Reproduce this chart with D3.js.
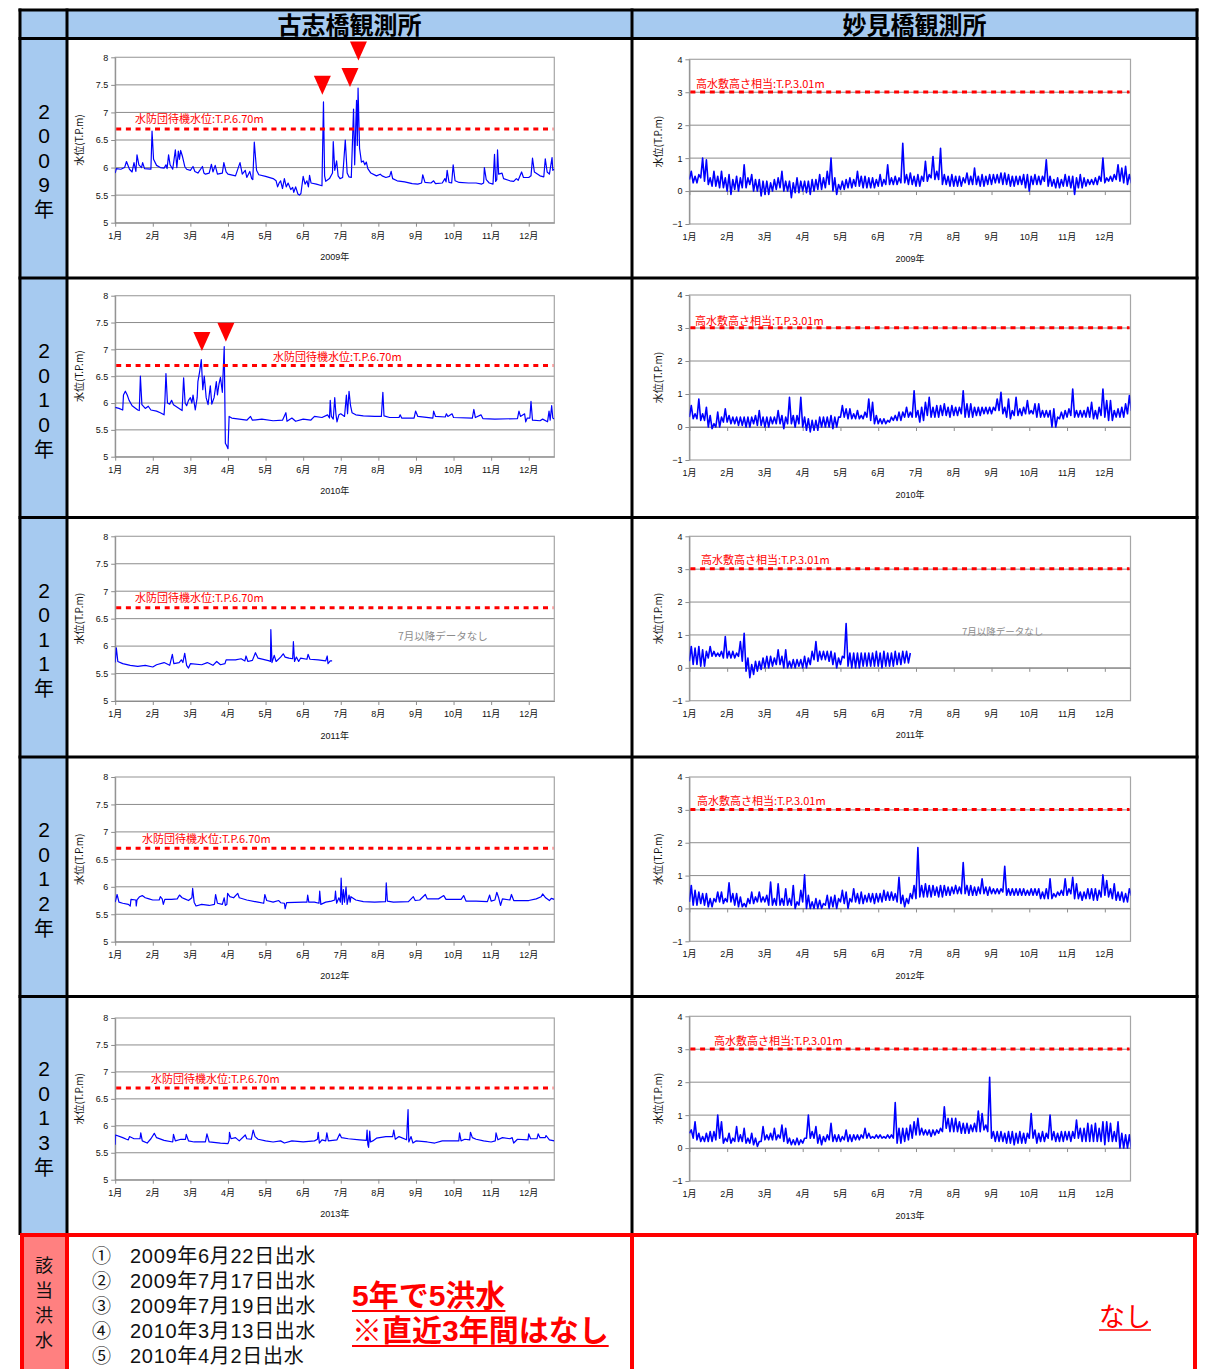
<!DOCTYPE html>
<html>
<head>
<meta charset="utf-8">
<script src="https://cdn.jsdelivr.net/npm/d3@7"></script>
<style>
  body { margin: 0; background: #fff; }
  svg { display: block; }
</style>
</head>
<body>
<svg id="chart" width="1205" height="1369"></svg>
<script>
// ---- data ----
var YEARS = [2009, 2010, 2011, 2012, 2013];
var MONTH_LABELS = ["1月", "2月", "3月", "4月", "5月", "6月", "7月", "8月", "9月", "10月", "11月", "12月"];
var KOSHI_TICKS = [5, 5.5, 6, 6.5, 7, 7.5, 8];
var MYOKEN_TICKS = [-1, 0, 1, 2, 3, 4];
var KOSHI_LEVEL = 6.70;
var MYOKEN_LEVEL = 3.01;
var KOSHI_LEVEL_LABEL = "水防団待機水位:T.P.6.70m";
var MYOKEN_LEVEL_LABEL = "高水敷高さ相当:T.P.3.01m";
var STATIONS = ["古志橋観測所", "妙見橋観測所"];
var NO_DATA_LABEL = "7月以降データなし";
var FLOOD_LIST = ["2009年6月22日出水", "2009年7月17日出水", "2009年7月19日出水", "2010年3月13日出水", "2010年4月2日出水"];
var FLOOD_NUMS = ["①", "②", "③", "④", "⑤"];
var SUMMARY_LEFT = ["5年で5洪水", "※直近3年間はなし"];
var SUMMARY_RIGHT = "なし";

// Koshi bridge: [month position, level T.P.m]
var koshi2009 = [[0,5.9],[0.03,5.98],[0.15,5.97],[0.25,6.0],[0.3,6.11],[0.38,5.97],[0.45,5.92],[0.5,6.09],[0.55,5.93],[0.58,6.23],[0.63,6.05],[0.7,6.0],[0.73,6.09],[0.78,5.98],[0.95,5.97],[0.98,6.66],[1.02,6.15],[1.1,6.04],[1.2,6.0],[1.3,5.99],[1.35,6.05],[1.38,5.98],[1.42,6.23],[1.46,6.05],[1.53,5.97],[1.6,6.32],[1.64,6.0],[1.68,6.3],[1.71,6.15],[1.74,6.31],[1.79,6.2],[1.85,6.02],[1.9,5.97],[2.0,5.95],[2.07,6.02],[2.12,5.93],[2.2,5.9],[2.32,6.02],[2.36,5.9],[2.4,5.88],[2.5,5.9],[2.56,6.06],[2.6,5.92],[2.66,6.04],[2.72,5.88],[2.85,5.9],[2.89,6.09],[2.95,5.92],[3.0,5.88],[3.2,5.85],[3.32,6.09],[3.38,5.88],[3.46,5.95],[3.5,5.82],[3.58,5.93],[3.63,5.8],[3.66,5.78],[3.7,6.46],[3.76,5.95],[3.82,5.87],[4.0,5.84],[4.2,5.8],[4.28,5.76],[4.32,5.65],[4.36,5.72],[4.4,5.76],[4.45,5.62],[4.5,5.8],[4.55,5.65],[4.6,5.72],[4.67,5.6],[4.72,5.64],[4.75,5.55],[4.8,5.65],[4.86,5.52],[4.9,5.5],[4.94,5.53],[5.0,5.84],[5.05,5.7],[5.1,5.76],[5.14,5.65],[5.17,5.86],[5.21,5.72],[5.35,5.7],[5.5,5.67],[5.54,7.19],[5.57,5.85],[5.6,5.75],[5.7,5.8],[5.78,5.9],[5.8,6.47],[5.84,5.95],[5.89,6.12],[5.93,5.85],[5.98,5.8],[6.05,5.82],[6.12,6.5],[6.17,5.9],[6.22,5.83],[6.28,5.82],[6.34,7.06],[6.37,6.05],[6.4,6.8],[6.42,7.22],[6.44,6.4],[6.46,7.44],[6.5,6.35],[6.55,6.1],[6.6,6.12],[6.64,6.05],[6.68,6.1],[6.72,5.98],[6.8,5.9],[6.95,5.85],[7.05,5.88],[7.1,5.85],[7.2,5.82],[7.3,5.84],[7.34,5.93],[7.38,5.8],[7.5,5.76],[7.7,5.74],[7.9,5.71],[8.05,5.7],[8.15,5.72],[8.18,5.87],[8.24,5.73],[8.4,5.72],[8.47,5.76],[8.52,5.71],[8.7,5.72],[8.77,5.8],[8.8,5.74],[8.83,5.95],[8.88,5.73],[8.95,5.72],[8.99,6.05],[9.04,5.76],[9.15,5.73],[9.4,5.72],[9.6,5.72],[9.75,5.7],[9.8,5.72],[9.82,6.0],[9.87,5.78],[9.95,5.72],[10.05,5.7],[10.09,6.24],[10.12,5.75],[10.15,5.78],[10.17,6.32],[10.2,5.88],[10.29,5.9],[10.33,5.8],[10.5,5.76],[10.6,5.75],[10.67,5.8],[10.72,5.77],[10.81,5.92],[10.86,5.82],[11.0,5.82],[11.06,5.85],[11.1,6.17],[11.15,5.92],[11.3,5.85],[11.4,5.83],[11.44,6.16],[11.49,5.92],[11.55,5.88],[11.62,6.18],[11.64,5.95],[11.68,5.97]];
var koshi2010 = [[0,5.92],[0.1,5.9],[0.2,5.87],[0.22,6.15],[0.27,6.22],[0.32,6.15],[0.37,6.05],[0.45,5.95],[0.6,5.87],[0.64,5.86],[0.67,6.5],[0.71,5.97],[0.8,5.9],[0.88,5.94],[0.95,5.87],[1.1,5.85],[1.2,5.82],[1.3,5.78],[1.32,6.0],[1.35,6.55],[1.39,6.0],[1.45,5.98],[1.5,6.05],[1.55,5.97],[1.7,5.9],[1.78,5.86],[1.82,6.47],[1.86,6.0],[1.9,5.95],[1.95,6.05],[2.0,6.1],[2.04,6.0],[2.07,6.15],[2.13,5.87],[2.18,6.1],[2.2,6.4],[2.25,6.6],[2.29,6.81],[2.33,6.25],[2.37,6.5],[2.42,6.1],[2.47,5.97],[2.53,6.32],[2.57,5.98],[2.63,6.1],[2.69,6.4],[2.72,6.15],[2.76,6.35],[2.8,6.48],[2.85,6.2],[2.9,7.05],[2.93,5.25],[2.97,5.2],[3.0,5.15],[3.03,5.75],[3.1,5.72],[3.3,5.7],[3.5,5.68],[3.6,5.75],[3.65,5.68],[3.9,5.7],[4.2,5.67],[4.45,5.68],[4.54,5.82],[4.57,5.66],[4.7,5.72],[4.8,5.66],[5.0,5.7],[5.2,5.68],[5.3,5.75],[5.5,5.73],[5.65,5.78],[5.7,5.72],[5.72,6.05],[5.75,5.75],[5.8,5.7],[5.84,6.1],[5.87,5.8],[5.9,5.65],[5.95,5.78],[6.0,5.8],[6.1,5.75],[6.15,6.15],[6.18,5.8],[6.22,6.22],[6.26,5.95],[6.3,5.82],[6.4,5.78],[6.6,5.76],[6.9,5.75],[7.08,5.75],[7.12,6.2],[7.15,5.76],[7.3,5.73],[7.55,5.73],[7.58,5.78],[7.62,5.72],[7.95,5.72],[7.99,5.85],[8.05,5.75],[8.45,5.72],[8.47,5.85],[8.52,5.75],[8.78,5.74],[8.81,5.8],[8.85,5.75],[8.96,5.8],[9.0,5.73],[9.5,5.72],[9.54,5.88],[9.58,5.73],[9.73,5.78],[9.78,5.71],[10.1,5.7],[10.7,5.71],[10.74,5.85],[10.78,5.75],[10.89,5.8],[10.92,5.65],[10.96,5.72],[11.03,5.72],[11.06,6.03],[11.1,5.68],[11.3,5.67],[11.37,5.7],[11.5,5.65],[11.54,5.85],[11.57,5.68],[11.61,5.95],[11.64,5.72],[11.68,5.7]];
var koshi2011 = [[0,5.7],[0.03,5.97],[0.07,5.72],[0.2,5.68],[0.4,5.65],[0.6,5.63],[0.8,5.65],[1.0,5.62],[1.1,5.66],[1.3,5.7],[1.45,5.65],[1.52,5.85],[1.56,5.68],[1.7,5.7],[1.76,5.75],[1.8,5.7],[1.85,5.87],[1.9,5.65],[1.95,5.6],[2.0,5.68],[2.3,5.66],[2.45,5.7],[2.6,5.65],[2.7,5.72],[2.8,5.66],[2.92,5.68],[2.95,5.75],[3.2,5.75],[3.35,5.77],[3.45,5.73],[3.48,5.82],[3.53,5.72],[3.65,5.74],[3.73,5.88],[3.8,5.78],[4.1,5.73],[4.13,5.72],[4.14,6.3],[4.17,5.7],[4.23,5.83],[4.28,5.72],[4.4,5.8],[4.47,5.86],[4.52,5.8],[4.62,5.78],[4.72,5.77],[4.74,6.08],[4.77,5.72],[4.82,5.8],[4.88,5.72],[4.93,5.78],[5.1,5.76],[5.13,5.85],[5.18,5.76],[5.4,5.75],[5.6,5.73],[5.64,5.82],[5.66,5.68],[5.72,5.73],[5.77,5.73]];
var koshi2012 = [[0,5.72],[0.05,5.86],[0.1,5.72],[0.2,5.7],[0.35,5.68],[0.4,5.65],[0.42,5.77],[0.55,5.76],[0.56,5.65],[0.58,5.76],[0.65,5.82],[0.72,5.84],[0.8,5.8],[0.9,5.78],[1.0,5.76],[1.17,5.76],[1.2,5.82],[1.25,5.78],[1.28,5.68],[1.32,5.77],[1.5,5.77],[1.65,5.78],[1.71,5.85],[1.78,5.8],[1.85,5.78],[1.95,5.75],[2.04,5.8],[2.06,5.97],[2.1,5.72],[2.15,5.65],[2.3,5.68],[2.5,5.66],[2.64,5.68],[2.67,5.86],[2.72,5.7],[2.85,5.68],[2.9,5.8],[2.93,5.66],[2.97,5.68],[2.99,5.88],[3.05,5.82],[3.15,5.8],[3.26,5.88],[3.3,5.8],[3.5,5.76],[3.8,5.72],[3.95,5.7],[3.98,5.86],[4.03,5.75],[4.2,5.72],[4.35,5.75],[4.4,5.71],[4.5,5.7],[4.52,5.6],[4.56,5.71],[5.0,5.72],[5.1,5.72],[5.12,5.85],[5.15,5.72],[5.3,5.72],[5.42,5.7],[5.44,5.92],[5.47,5.68],[5.6,5.72],[5.75,5.74],[5.84,5.76],[5.86,5.92],[5.89,5.7],[5.95,5.8],[5.99,5.72],[6.01,6.16],[6.04,5.68],[6.07,5.95],[6.1,5.72],[6.14,6.0],[6.17,5.68],[6.22,5.85],[6.25,5.72],[6.27,5.82],[6.4,5.76],[6.6,5.73],[6.9,5.72],[7.19,5.73],[7.21,6.07],[7.24,5.74],[7.4,5.72],[7.8,5.73],[7.93,5.82],[7.98,5.75],[8.1,5.76],[8.25,5.86],[8.3,5.78],[8.6,5.78],[8.74,5.84],[8.8,5.77],[9.2,5.77],[9.27,5.84],[9.33,5.74],[9.6,5.74],[9.9,5.73],[9.96,5.85],[10.0,5.74],[10.1,5.76],[10.15,5.9],[10.2,5.8],[10.25,5.66],[10.3,5.78],[10.5,5.76],[10.54,5.86],[10.6,5.75],[11.0,5.75],[11.2,5.78],[11.33,5.82],[11.37,5.87],[11.45,5.8],[11.55,5.75],[11.6,5.79],[11.68,5.77]];
var koshi2013 = [[0,5.65],[0.01,5.83],[0.2,5.78],[0.3,5.75],[0.35,5.74],[0.38,5.8],[0.5,5.76],[0.66,5.76],[0.68,5.87],[0.72,5.72],[0.85,5.68],[0.95,5.76],[1.04,5.86],[1.1,5.78],[1.3,5.73],[1.53,5.7],[1.55,5.84],[1.6,5.72],[1.75,5.75],[1.87,5.75],[1.89,5.84],[1.95,5.72],[2.1,5.7],[2.4,5.7],[2.44,5.85],[2.5,5.7],[2.8,5.68],[3.0,5.67],[3.03,5.73],[3.04,5.88],[3.08,5.76],[3.2,5.78],[3.3,5.72],[3.46,5.83],[3.5,5.76],[3.62,5.75],[3.67,5.92],[3.72,5.8],[3.8,5.75],[4.0,5.72],[4.2,5.7],[4.4,5.72],[4.5,5.68],[4.7,5.72],[5.0,5.7],[5.3,5.72],[5.38,5.75],[5.4,5.88],[5.43,5.68],[5.5,5.74],[5.6,5.72],[5.63,5.87],[5.67,5.72],[5.9,5.74],[5.97,5.85],[6.02,5.78],[6.2,5.76],[6.5,5.74],[6.68,5.73],[6.7,5.92],[6.72,5.65],[6.74,5.6],[6.77,5.9],[6.79,5.7],[6.85,5.72],[6.95,5.77],[7.2,5.8],[7.38,5.8],[7.41,5.92],[7.45,5.75],[7.55,5.8],[7.75,5.74],[7.79,6.3],[7.81,5.7],[7.87,5.8],[7.92,5.68],[8.0,5.72],[8.3,5.7],[8.5,5.68],[8.7,5.72],[9.14,5.72],[9.16,5.87],[9.2,5.72],[9.3,5.75],[9.43,5.74],[9.45,5.88],[9.5,5.78],[9.6,5.75],[9.8,5.72],[10.0,5.7],[10.11,5.72],[10.13,5.87],[10.18,5.74],[10.3,5.78],[10.5,5.76],[10.56,5.78],[10.6,5.68],[10.7,5.75],[10.98,5.74],[11.0,5.85],[11.05,5.76],[11.22,5.76],[11.25,5.85],[11.3,5.78],[11.44,5.78],[11.46,5.82],[11.55,5.74],[11.68,5.72]];

// Myoken bridge (tidal): low and high reading in each 0.1-month window from 1 Jan (T.P.m)
var myoken2009Lo = [0.35,0.25,0.25,0.4,0.3,0.2,0.15,0.15,0.1,0.1, 0.0,-0.1,0.05,0.0,0.1,0.1,0.2,0.0,0.0,-0.15, -0.1,-0.1,0.0,0.05,0.1,0.0,0.0,-0.2,-0.05,-0.05, 0.0,-0.05,-0.1,0.0,0.05,0.05,0.1,0.2,0.0,-0.1, 0.05,0.05,0.1,0.1,0.15,0.15,0.1,0.1,0.1,0.1, 0.15,0.15,0.2,0.2,0.2,0.2,0.25,0.25,0.2,0.2, 0.15,0.15,0.3,0.3,0.4,0.35,0.35,0.2,0.2,0.15, 0.15,0.15,0.15,0.25,0.2,0.2,0.2,0.15,0.15,0.2, 0.2,0.25,0.25,0.2,0.2,0.15,0.15,0.2,0.2,0.1, 0.0,0.2,0.2,0.2,0.3,0.15,0.15,0.1,0.1,0.15, 0.15,0.1,-0.1,0.1,0.1,0.15,0.2,0.2,0.2,0.3, 0.25,0.3,0.3,0.35,0.3,0.25,0.2,0.25];
var myoken2009Hi = [0.6,0.45,0.5,1.0,0.95,0.4,0.6,0.45,0.6,0.4, 0.5,0.35,0.45,0.4,0.8,0.4,0.5,0.35,0.35,0.3, 0.3,0.25,0.35,0.4,0.6,0.3,0.3,0.25,0.4,0.3, 0.3,0.3,0.35,0.35,0.5,0.4,0.6,1.0,0.4,0.2, 0.3,0.35,0.4,0.35,0.6,0.45,0.45,0.4,0.4,0.35, 0.5,0.35,0.8,0.4,0.45,0.4,1.45,0.5,0.55,0.45, 0.5,0.45,0.9,0.5,1.05,0.6,1.3,0.5,0.45,0.5, 0.45,0.45,0.4,0.55,0.45,0.7,0.45,0.5,0.45,0.5, 0.5,0.5,0.55,0.55,0.5,0.45,0.45,0.45,0.5,0.5, 0.45,0.5,0.45,0.45,0.95,0.45,0.35,0.4,0.35,0.5, 0.45,0.45,0.4,0.5,0.4,0.35,0.35,0.4,0.45,1.0, 0.4,0.45,0.5,0.8,0.7,0.75,0.5,0.8];
var myoken2010Lo = [0.3,0.25,0.25,0.2,0.2,0.0,-0.05,0.0,0.0,0.15, 0.15,0.1,0.1,0.05,0.05,0.0,0.0,0.1,0.05,0.05, 0.0,0.0,0.1,0.1,0.1,-0.05,0.1,0.1,0.0,0.1, 0.0,-0.1,-0.15,-0.1,-0.1,0.0,0.0,0.0,-0.05,0.0, 0.3,0.3,0.25,0.25,0.25,0.25,0.25,0.3,0.2,0.1, 0.1,0.1,0.1,0.15,0.2,0.2,0.2,0.3,0.3,0.3, 0.3,0.15,0.2,0.35,0.3,0.3,0.3,0.35,0.35,0.3, 0.35,0.35,0.4,0.3,0.3,0.3,0.35,0.35,0.4,0.4, 0.4,0.5,0.5,0.4,0.3,0.25,0.35,0.35,0.35,0.4, 0.4,0.4,0.3,0.3,0.3,0.3,0.0,0.0,0.25,0.25, 0.3,0.35,0.3,0.3,0.3,0.3,0.3,0.25,0.25,0.35, 0.3,0.2,0.2,0.3,0.3,0.3,0.4,0.5];
var myoken2010Hi = [0.65,0.4,0.85,0.4,0.6,0.35,0.1,0.45,0.3,0.55, 0.35,0.3,0.3,0.3,0.3,0.3,0.3,0.35,0.5,0.3, 0.3,0.3,0.3,0.5,0.35,0.3,0.9,0.35,0.35,0.9, 0.3,0.25,0.2,0.2,0.3,0.3,0.3,0.35,0.3,0.3, 0.65,0.55,0.55,0.4,0.5,0.35,0.45,0.85,0.75,0.35, 0.25,0.25,0.2,0.3,0.35,0.45,0.45,0.6,0.45,1.1, 0.5,0.6,0.75,0.9,0.6,0.65,0.65,0.7,0.6,0.65, 0.6,0.6,1.1,0.7,0.7,0.6,0.6,0.6,0.6,0.6, 0.6,0.85,1.05,0.6,0.85,0.5,0.9,0.55,0.6,0.8, 0.5,0.7,0.7,0.5,0.5,0.5,0.55,0.3,0.45,0.5, 0.55,1.15,0.5,0.5,0.5,0.6,0.75,0.5,0.6,1.15, 0.8,0.8,0.5,0.55,0.6,0.7,0.95,0.8];
var myoken2011Lo = [0.2,0.1,0.1,0.05,0.05,0.3,0.35,0.35,0.35,0.3, 0.3,0.3,0.3,0.35,0.2,-0.1,-0.3,-0.2,-0.1,-0.05, 0.0,0.0,0.05,0.1,0.1,0.0,0.0,0.0,0.0,0.05, 0.0,0.0,0.1,0.25,0.2,0.25,0.25,0.2,0.1,0.0, 0.1,0.3,0.05,0.0,0.0,0.0,0.05,0.05,0.05,0.05, 0.05,0.0,0.05,0.05,0.05,0.1,0.1,0.15,0.15];
var myoken2011Hi = [0.65,0.6,0.65,0.55,0.5,0.65,0.5,0.45,0.5,0.95, 0.5,0.5,0.45,0.8,1.05,0.3,0.1,0.2,0.2,0.3, 0.35,0.35,0.3,0.55,0.35,0.55,0.2,0.25,0.25,0.25, 0.35,0.3,0.5,0.8,0.5,0.5,0.5,0.5,0.45,0.3, 0.35,1.35,0.45,0.45,0.45,0.45,0.45,0.45,0.45,0.5, 0.45,0.5,0.45,0.45,0.5,0.45,0.5,0.5,0.45];
var myoken2012Lo = [0.2,0.1,0.1,0.15,0.1,0.05,0.05,0.2,0.2,0.15, 0.2,0.2,0.1,0.05,0.05,0.05,0.15,0.15,0.2,0.2, 0.2,0.1,0.1,0.1,0.1,0.1,0.1,0.1,0.0,0.1, 0.2,0.0,0.0,0.0,0.0,0.0,0.1,0.0,0.05,0.0, 0.2,0.15,0.0,0.2,0.2,0.15,0.15,0.2,0.2,0.15, 0.2,0.2,0.25,0.25,0.25,0.2,0.15,0.05,0.15,0.3, 0.3,0.35,0.35,0.35,0.35,0.4,0.35,0.35,0.4,0.4, 0.45,0.45,0.45,0.45,0.4,0.4,0.4,0.45,0.45,0.4, 0.45,0.45,0.45,0.5,0.4,0.4,0.4,0.4,0.4,0.4, 0.4,0.4,0.4,0.3,0.3,0.3,0.3,0.35,0.4,0.4, 0.4,0.45,0.3,0.3,0.25,0.3,0.3,0.25,0.25,0.35, 0.4,0.35,0.3,0.25,0.25,0.2,0.2,0.4];
var myoken2012Hi = [0.7,0.55,0.5,0.45,0.45,0.3,0.3,0.5,0.5,0.3, 0.78,0.45,0.45,0.35,0.15,0.3,0.5,0.35,0.5,0.35, 0.4,0.8,0.3,0.75,0.3,0.6,0.3,0.7,0.2,0.55, 1.02,0.4,0.2,0.3,0.25,0.15,0.4,0.35,0.4,0.3, 0.55,0.5,0.3,0.6,0.45,0.5,0.4,0.45,0.45,0.45, 0.45,0.55,0.5,0.5,0.45,0.95,0.4,0.3,0.45,0.7, 1.85,0.7,0.75,0.7,0.7,0.65,0.7,0.7,0.65,0.65, 0.7,0.65,1.4,0.7,0.7,0.65,0.65,0.9,0.65,0.65, 0.6,0.6,0.6,1.28,0.6,0.6,0.6,0.6,0.6,0.55, 0.6,0.6,0.6,0.5,0.6,0.9,0.45,0.5,0.55,0.9, 0.6,0.95,0.75,0.5,0.5,0.6,0.6,0.6,0.55,1.02, 0.85,0.6,0.75,0.5,0.5,0.45,0.6,0.7];
var myoken2013Lo = [0.45,0.3,0.25,0.2,0.2,0.2,0.2,0.25,0.3,0.15, 0.2,0.15,0.2,0.2,0.2,0.15,0.15,0.1,0.05,0.2, 0.25,0.25,0.25,0.25,0.3,0.2,0.15,0.1,0.1,0.1, 0.15,0.3,0.3,0.3,0.15,0.1,0.2,0.25,0.2,0.2, 0.2,0.25,0.2,0.2,0.25,0.25,0.3,0.3,0.3,0.3, 0.3,0.3,0.3,0.3,0.3,0.15,0.15,0.2,0.25,0.3, 0.4,0.4,0.4,0.4,0.35,0.4,0.45,0.5,0.6,0.5, 0.5,0.5,0.45,0.45,0.45,0.5,0.5,0.5,0.55,0.5, 0.3,0.2,0.2,0.2,0.15,0.15,0.1,0.15,0.15,0.15, 0.3,0.3,0.15,0.2,0.2,0.3,0.25,0.2,0.2,0.2, 0.25,0.2,0.3,0.3,0.2,0.2,0.2,0.2,0.2,0.2, 0.1,0.2,0.2,0.2,0.0,0.0,0.0,0.0];
var myoken2013Hi = [0.55,0.8,0.45,0.35,0.45,0.5,0.5,1.0,0.8,0.3, 0.45,0.3,0.65,0.4,0.6,0.3,0.45,0.3,0.2,0.65, 0.4,0.45,0.6,0.4,0.7,0.6,0.3,0.25,0.3,0.25, 0.3,1.0,0.5,0.65,0.4,0.35,0.4,0.75,0.4,0.4, 0.35,0.55,0.4,0.4,0.4,0.4,0.6,0.45,0.35,0.4, 0.4,0.35,0.4,0.4,1.38,0.6,0.6,0.6,0.7,0.8, 0.9,0.6,0.55,0.55,0.55,0.55,0.6,1.25,0.9,0.9, 0.9,0.8,0.75,0.75,0.7,0.75,1.12,1.05,0.7,2.15, 0.5,0.5,0.5,0.45,0.5,0.5,0.45,0.5,0.45,0.45, 1.05,0.55,0.45,0.5,0.45,1.0,0.5,0.45,0.5,0.5, 0.5,0.5,0.85,0.6,0.6,0.75,0.7,0.75,0.6,0.8, 0.8,0.75,0.5,0.8,0.45,0.4,0.4,0.4];

// flood markers (▼): year, month position, level at the tip
var FLOOD_MARK_YEAR = [2009, 2009, 2009, 2010, 2010];
var FLOOD_MARK_X = [5.51, 6.245, 6.47, 2.306, 2.944];
var FLOOD_MARK_V = [7.32, 7.46, 7.94, 6.97, 7.14];

var KOSHI_DATA = [koshi2009, koshi2010, koshi2011, koshi2012, koshi2013];
var MYOKEN_LO = [myoken2009Lo, myoken2010Lo, myoken2011Lo, myoken2012Lo, myoken2013Lo];
var MYOKEN_HI = [myoken2009Hi, myoken2010Hi, myoken2011Hi, myoken2012Hi, myoken2013Hi];

// ---- layout ----
var X_END = 11.68;           // axis ends a little before the end of December
var MYOKEN_STEP = 0.1;
var COL_X = [20, 67, 632, 1197];
var ROW_Y = [10, 38.5, 278, 517.5, 757, 996.5, 1235, 1369];
var BLUE = "#a6caf0";
var PINK = "#ff8080";
var RED = "#ff0000";
var GRID = "#8c8c8c";
var FRAME = "#a6a6a6";
var LATIN = "'Liberation Sans', Arial, 'Noto Sans CJK JP', sans-serif";
var CJK = "'Noto Sans CJK JP', 'Liberation Sans', sans-serif";

// plot boxes per row [top, bottom]
var KOSHI_BOX = [[57.3, 222.7], [295.7, 456.7], [536.3, 701], [777, 941.7], [1018, 1179.7]];
var MYOKEN_BOX = [[59.3, 224], [295, 460], [536.3, 700.7], [777, 941.3], [1016.3, 1181]];
var KOSHI_LABEL_POS = [[135, 123], [273, 361], [135, 602], [142, 843], [151, 1083]];
var MYOKEN_LABEL_POS = [[696, 88], [695, 325], [701, 564], [697, 805], [714, 1045]];

var svg = d3.select("#chart");

// ---- table background ----
svg.append("rect").attr("x", COL_X[0]).attr("y", ROW_Y[0])
   .attr("width", COL_X[3] - COL_X[0]).attr("height", ROW_Y[1] - ROW_Y[0]).attr("fill", BLUE);
svg.append("rect").attr("x", COL_X[0]).attr("y", ROW_Y[1])
   .attr("width", COL_X[1] - COL_X[0]).attr("height", ROW_Y[6] - ROW_Y[1]).attr("fill", BLUE);
svg.append("rect").attr("x", COL_X[0]).attr("y", ROW_Y[6])
   .attr("width", COL_X[1] - COL_X[0]).attr("height", ROW_Y[7] - ROW_Y[6]).attr("fill", PINK);

// header text
STATIONS.forEach(function (s, i) {
  svg.append("text")
     .attr("x", (COL_X[i + 1] + COL_X[i + 2]) / 2)
     .attr("y", 33.5)
     .attr("text-anchor", "middle")
     .attr("font-family", CJK)
     .attr("font-weight", "bold")
     .attr("font-size", 24)
     .attr("fill", "#000")
     .text(s);
});

// vertical year labels
YEARS.forEach(function (yr, r) {
  var mid = (ROW_Y[r + 1] + ROW_Y[r + 2]) / 2 + 1.75;
  var chars = (yr + "年").split("");
  chars.forEach(function (c, k) {
    var cy = mid + (k - 2) * 24.5;
    svg.append("text")
       .attr("x", 44)
       .attr("y", cy + (c === "年" ? 8 : 7.5))
       .attr("text-anchor", "middle")
       .attr("font-family", c === "年" ? CJK : LATIN)
       .attr("font-size", c === "年" ? 20 : 21)
       .attr("fill", "#000")
       .text(c);
  });
});

function tick_label(d) {
  return String(d).replace("-", "\u2212");
}

// ---- one chart ----
function draw_chart(cfg) {
  var g = svg.append("g");
  var x = d3.scaleLinear().domain([0, X_END]).range([cfg.left, cfg.right]);
  var y = d3.scaleLinear().domain([cfg.ticks[0], cfg.ticks[cfg.ticks.length - 1]]).range([cfg.bottom, cfg.top]);

  // gridlines
  g.selectAll("line.grid")
   .data(cfg.ticks.slice(1, -1))
   .enter().append("line")
   .attr("x1", cfg.left).attr("x2", cfg.right)
   .attr("y1", function (d) { return y(d); })
   .attr("y2", function (d) { return y(d); })
   .attr("stroke", GRID).attr("stroke-width", 1);

  // plot frame
  g.append("rect")
   .attr("x", cfg.left).attr("y", cfg.top)
   .attr("width", cfg.right - cfg.left).attr("height", cfg.bottom - cfg.top)
   .attr("fill", "none").attr("stroke", FRAME).attr("stroke-width", 1.2);

  // y axis
  var ya = g.append("g")
            .attr("transform", "translate(" + cfg.left + ",0)")
            .call(d3.axisLeft(y).tickValues(cfg.ticks).tickSize(4).tickSizeOuter(0).tickPadding(3).tickFormat(tick_label));
  ya.attr("font-family", LATIN).attr("font-size", 9);
  ya.select(".domain").attr("stroke", GRID);
  ya.selectAll(".tick line").attr("stroke", GRID);
  ya.selectAll(".tick text").attr("fill", "#111");

  // month ticks sit on the level axis (0 for Myoken, 5 for Koshi)
  var xa = g.append("g")
            .attr("transform", "translate(0," + y(cfg.axisAt) + ")")
            .call(d3.axisBottom(x).tickValues(d3.range(12)).tickSize(4).tickSizeOuter(0).tickFormat(""));
  xa.select(".domain").attr("stroke", GRID);
  xa.selectAll(".tick line").attr("stroke", GRID);

  // month labels at the bottom
  g.selectAll("text.month")
   .data(MONTH_LABELS)
   .enter().append("text")
   .attr("x", function (d, i) { return x(i); })
   .attr("y", cfg.bottom + 16)
   .attr("text-anchor", "middle")
   .attr("font-family", LATIN).attr("font-size", 9).attr("fill", "#111")
   .text(function (d) { return d; });

  // axis titles
  g.append("text")
   .attr("x", (cfg.left + cfg.right) / 2).attr("y", cfg.bottom + 37.5)
   .attr("text-anchor", "middle")
   .attr("font-family", LATIN).attr("font-size", 9).attr("fill", "#111")
   .text(cfg.year + "年");
  g.append("text")
   .attr("transform", "translate(" + (cfg.left - cfg.titleGap) + "," + ((cfg.top + cfg.bottom) / 2) + ") rotate(-90)")
   .attr("text-anchor", "middle")
   .attr("dy", "0.35em")
   .attr("font-family", CJK).attr("font-size", 10).attr("fill", "#111")
   .text("水位(T.P.m)");

  // clip for the series
  var clipId = "clip-" + cfg.id;
  g.append("clipPath").attr("id", clipId)
   .append("rect")
   .attr("x", cfg.left).attr("y", cfg.top)
   .attr("width", cfg.right - cfg.left).attr("height", cfg.bottom - cfg.top);

  var line = d3.line()
               .x(function (d) { return x(d[0]); })
               .y(function (d) { return y(d[1]); });

  g.append("path")
   .datum(cfg.data)
   .attr("clip-path", "url(#" + clipId + ")")
   .attr("d", line)
   .attr("fill", "none")
   .attr("stroke", "#0000ff")
   .attr("stroke-width", cfg.lineWidth)
   .attr("stroke-linejoin", "round");

  // warning level
  g.append("line")
   .attr("x1", cfg.left + 1).attr("x2", cfg.right - 1)
   .attr("y1", y(cfg.level)).attr("y2", y(cfg.level))
   .attr("stroke", RED).attr("stroke-width", 3)
   .attr("stroke-dasharray", "5,4.7");
  g.append("text")
   .attr("x", cfg.labelPos[0]).attr("y", cfg.labelPos[1])
   .attr("font-family", CJK).attr("font-size", 11).attr("fill", RED)
   .text(cfg.levelLabel);

  if (cfg.noData) {
    g.append("text")
     .attr("x", cfg.noData[0]).attr("y", cfg.noData[1])
     .attr("font-family", CJK).attr("font-size", cfg.noData[2]).attr("fill", "#8c8c8c")
     .text(NO_DATA_LABEL);
  }

  // flood markers
  var marks = [];
  FLOOD_MARK_YEAR.forEach(function (yr, i) {
    if (cfg.marks && yr === cfg.year) {
      marks.push([FLOOD_MARK_X[i], FLOOD_MARK_V[i]]);
    }
  });
  g.selectAll("path.mark")
   .data(marks)
   .enter().append("path")
   .attr("d", "M-8.5,-19L8.5,-19L0,0Z")
   .attr("transform", function (d) { return "translate(" + x(d[0]) + "," + y(d[1]) + ")"; })
   .attr("fill", RED);
}

// low reading then high reading inside each window
function tidal_points(lo, hi) {
  var pts = [];
  lo.forEach(function (v, i) {
    pts.push([i * MYOKEN_STEP, v]);
    pts.push([i * MYOKEN_STEP + MYOKEN_STEP / 2, hi[i]]);
  });
  return pts;
}

YEARS.forEach(function (yr, r) {
  draw_chart({
    id: "k" + yr, year: yr,
    left: 115.2, right: 554.3, top: KOSHI_BOX[r][0], bottom: KOSHI_BOX[r][1],
    ticks: KOSHI_TICKS, axisAt: KOSHI_TICKS[0], titleGap: 36,
    data: KOSHI_DATA[r], lineWidth: 1.2,
    level: KOSHI_LEVEL, levelLabel: KOSHI_LEVEL_LABEL, labelPos: KOSHI_LABEL_POS[r],
    noData: yr === 2011 ? [398, 640, 10.5] : null,
    marks: true
  });
  draw_chart({
    id: "m" + yr, year: yr,
    left: 689.4, right: 1130.5, top: MYOKEN_BOX[r][0], bottom: MYOKEN_BOX[r][1],
    ticks: MYOKEN_TICKS, axisAt: 0, titleGap: 31,
    data: tidal_points(MYOKEN_LO[r], MYOKEN_HI[r]),
    lineWidth: 1.6,
    level: MYOKEN_LEVEL, levelLabel: MYOKEN_LEVEL_LABEL, labelPos: MYOKEN_LABEL_POS[r],
    noData: yr === 2011 ? [962, 635, 9.5] : null,
    marks: false
  });
});

// ---- bottom row ----
"該当洪水".split("").forEach(function (c, k) {
  svg.append("text")
     .attr("x", 44).attr("y", 1272 + k * 25)
     .attr("text-anchor", "middle")
     .attr("font-family", LATIN).attr("font-size", 18).attr("fill", "#111")
     .text(c);
});

FLOOD_LIST.forEach(function (s, i) {
  svg.append("text")
     .attr("x", 92).attr("y", 1263 + i * 25)
     .attr("font-family", LATIN).attr("font-size", 19).attr("fill", "#111")
     .text(FLOOD_NUMS[i]);
  svg.append("text")
     .attr("x", 130).attr("y", 1263 + i * 25)
     .attr("font-family", LATIN).attr("font-size", 20).attr("letter-spacing", 0.7).attr("fill", "#111")
     .text(s);
});

function underlined(txt, x, yb, size, weight, anchor, lineY, lineW) {
  var t = svg.append("text")
             .attr("x", x).attr("y", yb)
             .attr("text-anchor", anchor)
             .attr("font-family", LATIN).attr("font-size", size).attr("font-weight", weight)
             .attr("fill", RED)
             .text(txt);
  var w = t.node().getComputedTextLength();
  var x0 = anchor === "middle" ? x - w / 2 : x;
  svg.append("line")
     .attr("x1", x0).attr("x2", x0 + w)
     .attr("y1", lineY).attr("y2", lineY)
     .attr("stroke", RED).attr("stroke-width", lineW);
}
underlined(SUMMARY_LEFT[0], 352, 1306, 30, "bold", "start", 1311, 2);
underlined(SUMMARY_LEFT[1], 352, 1341, 30, "bold", "start", 1346, 2);
underlined(SUMMARY_RIGHT, 1125, 1326, 26, "normal", "middle", 1330, 1.5);

// ---- table lines ----
for (var i = 0; i < 6; ++i) {
  svg.append("line")
     .attr("x1", COL_X[0] - 1.5).attr("x2", COL_X[3] + 1.5)
     .attr("y1", ROW_Y[i]).attr("y2", ROW_Y[i])
     .attr("stroke", "#000").attr("stroke-width", 3);
}
COL_X.forEach(function (cx) {
  svg.append("line")
     .attr("x1", cx).attr("x2", cx)
     .attr("y1", ROW_Y[0] - 1.5).attr("y2", ROW_Y[6])
     .attr("stroke", "#000").attr("stroke-width", 3);
});
// red frame round the flood row
svg.append("line")
   .attr("x1", COL_X[0]).attr("x2", COL_X[3])
   .attr("y1", ROW_Y[6]).attr("y2", ROW_Y[6])
   .attr("stroke", RED).attr("stroke-width", 4);
[COL_X[0] + 2, COL_X[1], COL_X[2], COL_X[3] - 2].forEach(function (cx) {
  svg.append("line")
     .attr("x1", cx).attr("x2", cx)
     .attr("y1", ROW_Y[6] - 2).attr("y2", ROW_Y[7])
     .attr("stroke", RED).attr("stroke-width", 4);
});
</script>
</body>
</html>
